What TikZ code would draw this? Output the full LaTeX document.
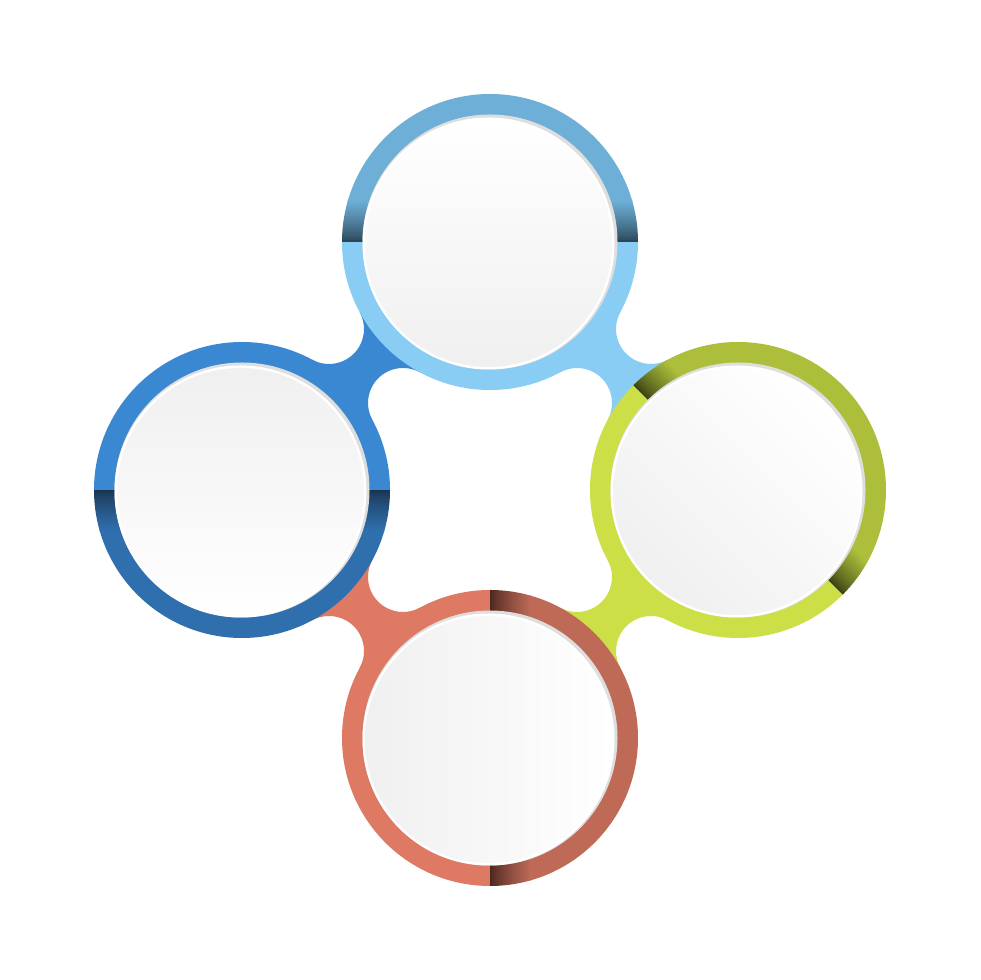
\documentclass[tikz,border=0pt]{standalone}
\usepackage{tikz}
\usetikzlibrary{calc}

\definecolor{skyflat}{HTML}{89CDF4}
\definecolor{skymid}{HTML}{6DAFD7}
\definecolor{skydark}{HTML}{2A4556}
\definecolor{blueflat}{HTML}{3A88D2}
\definecolor{bluemid}{HTML}{2F6FAE}
\definecolor{bluedark}{HTML}{1B3550}
\definecolor{limeflat}{HTML}{CCDF46}
\definecolor{limemid}{HTML}{ADBF3A}
\definecolor{limedark}{HTML}{3A4012}
\definecolor{rustflat}{HTML}{DE7A64}
\definecolor{rustmid}{HTML}{BE6A57}
\definecolor{rustdark}{HTML}{4A271F}

\tikzset{
  diskshadow/.style={fill=black!13},
  diskrim/.style={fill=white},
}

% ring: centre, angle of the shaded half, flat colour, mid colour, dark colour
\newcommand{\ringpart}[5]{%
\begin{scope}[shift={(#1)},rotate=#2-90]
  \fill[#3] (180:148) arc (180:360:148) -- (0:127) arc (0:-180:127) -- cycle;
  \begin{scope}
    \clip (0:148) arc (0:180:148) -- (180:127) arc (180:0:127) -- cycle;
    \fill[#4] (-150,40) rectangle (150,150);
    \foreach \y in {0,2,...,40} {
      \pgfmathsetmacro\p{100*(\y/40)^0.8}
      \fill[#4!\p!#5] (-150,\y-0.2) rectangle (150,\y+2.2);
    }
  \end{scope}
\end{scope}
\fill[diskshadow] (#1) circle (127.5);
\fill[diskrim] ($(#1)+(-1.5,-1.5)$) circle (126);
\shade[top color=white,bottom color=black!6,shading angle=#2-90]
  ($(#1)+(-1.5,-1.5)$) circle (123.5);
}

% bridge between two rings: first ring, second ring, angle, colour
\newcommand{\bridge}[4]{%
\fill[#4,shift={($(#1)!0.5!(#2)$)},rotate=#3]
  (-176,0) -- (-33.54,42.32) arc[start angle=196.62,end angle=343.38,radius=35]
  -- (176,0) -- (33.54,-42.32) arc[start angle=16.62,end angle=163.38,radius=35]
  -- cycle;
}

\begin{document}
\begin{tikzpicture}[x=1pt,y=1pt]
\fill[white] (0,0) rectangle (980,980);
\useasboundingbox (0,0) rectangle (980,980);

\coordinate (top) at (490,738);
\coordinate (lft) at (242,490);
\coordinate (rgt) at (738,490);
\coordinate (bot) at (490,242);

\bridge{top}{lft}{45}{blueflat}
\bridge{top}{rgt}{-45}{skyflat}
\bridge{rgt}{bot}{45}{limeflat}
\bridge{bot}{lft}{-45}{rustflat}

\ringpart{top}{90}{skyflat}{skymid}{skydark}
\ringpart{lft}{270}{blueflat}{bluemid}{bluedark}
\ringpart{rgt}{45}{limeflat}{limemid}{limedark}
\ringpart{bot}{0}{rustflat}{rustmid}{rustdark}
\end{tikzpicture}
\end{document}
